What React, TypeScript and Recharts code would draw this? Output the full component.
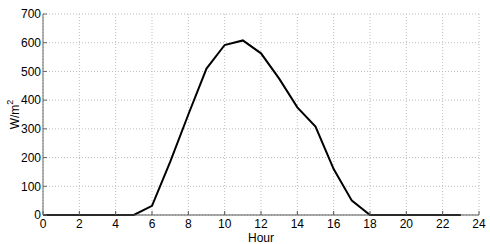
import React from 'react';
import { LineChart, Line, XAxis, YAxis, CartesianGrid } from 'recharts';

const hours = [0,1,2,3,4,5,6,7,8,9,10,11,12,13,14,15,16,17,18,19,20,21,22,23];
const irradiance = [0,0,0,0,0,0,32,185,350,510,592,608,563,475,375,308,160,50,0,0,0,0,0,0];
const xTicks = [0,2,4,6,8,10,12,14,16,18,20,22,24];
const yTicks = [0,100,200,300,400,500,600,700];

const data = hours.map((h, i) => ({ hour: h, value: irradiance[i] }));

const font = 'Liberation Sans, Arial, sans-serif';

const YLabel = (props: any) => {
  const vb = props.viewBox || {};
  const cx = 15;
  const cy = vb.y + vb.height / 2;
  return (
    <text x={cx} y={cy} transform={`rotate(-90, ${cx}, ${cy})`} textAnchor="middle" dominantBaseline="central" fontFamily={font} fontSize={12} fill="#000">
      <tspan>W/m</tspan>
      <tspan dy={-5} fontSize={9}>2</tspan>
    </text>
  );
};

export default function App() {
  return (
    <div style={{ position: 'absolute', left: 0, top: 0, width: 490, height: 244, background: '#fff' }}>
      <LineChart width={490} height={244} data={data} margin={{ top: 14, right: 11, bottom: 0, left: 0 }}>
        <CartesianGrid stroke="#bdbdbd" strokeDasharray="1 2" />
        <XAxis
          dataKey="hour"
          type="number"
          domain={[0, 24]}
          ticks={xTicks}
          interval={0}
          height={29}
          stroke="#555"
          tickSize={-4}
          tickMargin={8}
          tick={{ fill: '#000', fontSize: 12, fontFamily: font }}
          label={{ value: 'Hour', position: 'insideBottom', offset: 2, fill: '#000', fontSize: 12, fontFamily: font }}
        />
        <XAxis xAxisId="top" orientation="top" dataKey="hour" type="number" domain={[0, 24]} ticks={xTicks} height={0} stroke="#999" tickSize={-4} tick={false} />
        <YAxis
          type="number"
          domain={[0, 700]}
          ticks={yTicks}
          interval={0}
          width={43}
          stroke="#666"
          tickSize={-4}
          tickMargin={6}
          tick={{ fill: '#000', fontSize: 12, fontFamily: font }}
          label={<YLabel />}
        />
        <YAxis yAxisId="right" orientation="right" type="number" domain={[0, 700]} ticks={yTicks} width={0} stroke="#999" tickSize={-4} tick={false} />
        <Line type="linear" dataKey="value" stroke="#000" strokeWidth={2} dot={false} isAnimationActive={false} />
      </LineChart>
    </div>
  );
}
